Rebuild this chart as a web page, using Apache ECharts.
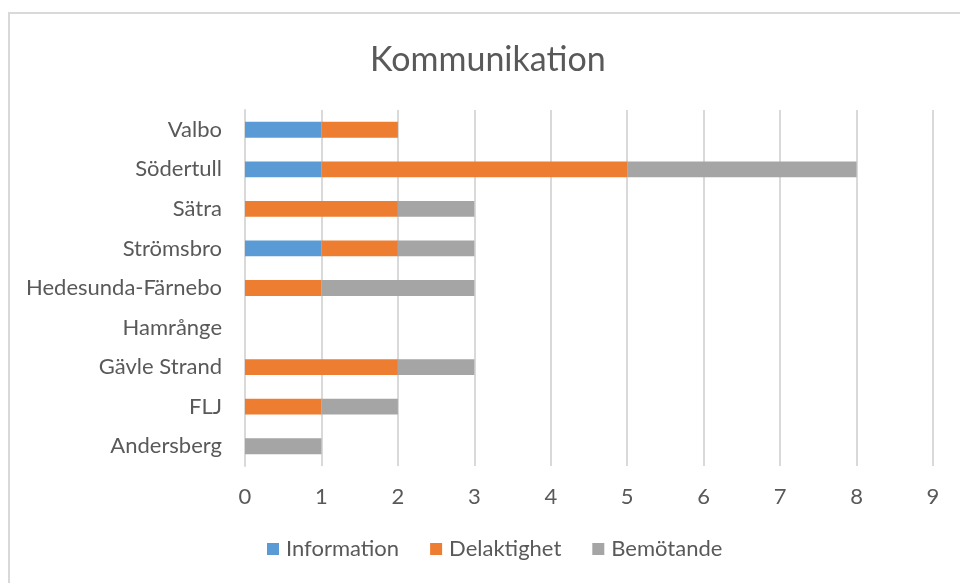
<!DOCTYPE html>
<html>
<head>
<meta charset="utf-8">
<script src="https://cdn.jsdelivr.net/npm/echarts@6/dist/echarts.min.js"></script>
<style>
  html, body { margin: 0; padding: 0; background: #fff; overflow: hidden; }
  #frame { position: absolute; left: 8px; top: 12px; width: 1000px; height: 620px; border: 2px solid #d9d9d9; box-sizing: border-box; }
  #main { position: absolute; left: 0; top: 0; width: 960px; height: 583px; }
</style>
</head>
<body>
<div id="frame"></div>
<div id="main"></div>
<script>
// kategorier nerifrån och upp (y-axeln ritas underifrån)
const categories = ["Andersberg", "FLJ", "Gävle Strand", "Hamrånge", "Hedesunda-Färnebo", "Strömsbro", "Sätra", "Södertull", "Valbo"];
const information = [0, 0, 0, 0, 0, 1, 0, 1, 1];
const delaktighet = [0, 1, 2, 0, 1, 1, 2, 4, 1];
const bemotande = [1, 1, 1, 0, 2, 1, 1, 3, 0];
const xTicks = [0, 1, 2, 3, 4, 5, 6, 7, 8, 9];

const chart = echarts.init(document.getElementById("main"), null, { renderer: "canvas" });
const font = "Lato, 'Open Sans', sans-serif";

const option = {
  animation: false,
  textStyle: { fontFamily: font, color: "#595959" },
  title: {
    text: "Kommunikation",
    left: 365,
    top: 38,
    textStyle: { fontFamily: font, fontSize: 34, fontWeight: "normal", color: "#595959" }
  },
  legend: {
    bottom: 18,
    left: 262,
    itemWidth: 12,
    itemHeight: 12,
    itemGap: 31,
    icon: "rect",
    textStyle: { fontFamily: font, fontSize: 22, color: "#595959", padding: [0, 0, 0, 2] },
    data: ["Information", "Delaktighet", "Bemötande"]
  },
  grid: { left: 245, right: 27, top: 110, bottom: 117, containLabel: false },
  xAxis: {
    type: "value",
    min: xTicks[0],
    max: xTicks[xTicks.length - 1],
    interval: 1,
    axisLine: { show: false },
    axisTick: { show: false },
    axisLabel: { fontFamily: font, fontSize: 22, color: "#595959", margin: 20 },
    splitLine: { lineStyle: { color: "#d9d9d9", width: 2 } }
  },
  yAxis: {
    type: "category",
    data: categories,
    axisLine: { lineStyle: { color: "#d9d9d9", width: 2 } },
    axisTick: { show: false },
    axisLabel: { fontFamily: font, fontSize: 22, color: "#595959", margin: 23 }
  },
  series: [
    { name: "Information", type: "bar", stack: "s", data: information, barWidth: "40%", itemStyle: { color: "#5b9bd5" } },
    { name: "Delaktighet", type: "bar", stack: "s", data: delaktighet, barWidth: "40%", itemStyle: { color: "#ed7d31" } },
    { name: "Bemötande", type: "bar", stack: "s", data: bemotande, barWidth: "40%", itemStyle: { color: "#a5a5a5" } }
  ]
};
chart.setOption(option);
</script>
</body>
</html>
